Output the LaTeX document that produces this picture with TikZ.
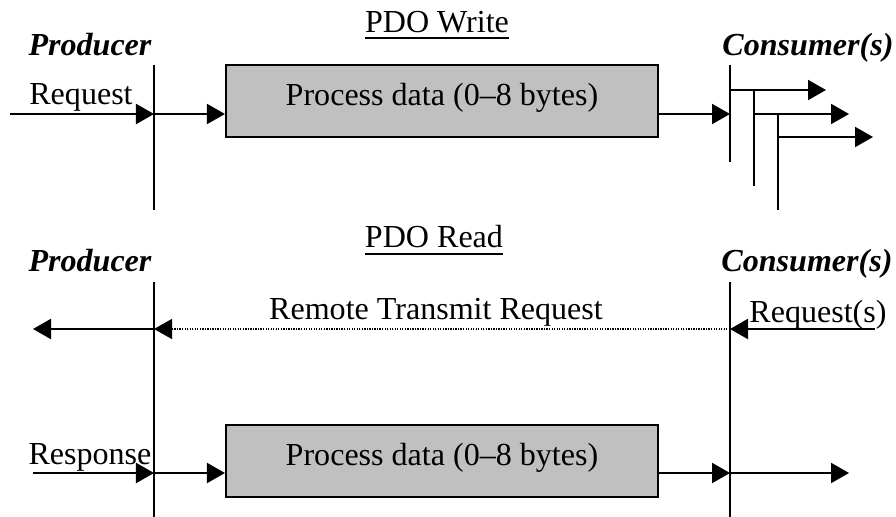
\documentclass[tikz,border=0pt]{standalone}
\usepackage{fontspec}
\setmainfont{Liberation Serif}
\usetikzlibrary{arrows.meta}
\definecolor{boxgray}{RGB}{192,192,192}
\newcommand{\pdofont}{\fontsize{22.8pt}{27pt}\selectfont}
\tikzset{
  flow/.style={line width=0.05cm, -{Triangle[length=0.45cm,width=0.5cm]}},
  life/.style={line width=0.05cm},
  rtrline/.style={line width=0.9pt, dash pattern=on 0.9pt off 0.9pt},
  databox/.style={draw, line width=0.05cm, fill=boxgray, minimum width=10.8cm,
    minimum height=1.8cm, inner sep=0pt, text height=0.56cm, text depth=0.31cm},
  role/.style={font=\pdofont\bfseries\itshape, anchor=base, inner sep=0pt},
  lbl/.style={anchor=base, inner sep=0pt},
}
\begin{document}
\begin{tikzpicture}[x=0.025cm, y=-0.025cm, every node/.style={font=\pdofont}]
\useasboundingbox (0,0) rectangle (896,517);

% PDO Write title, underlined
\node[lbl] (wtitle) at (437,33) {PDO Write};
\draw[life] ([yshift=-0.13cm]wtitle.base west) -- ([yshift=-0.13cm]wtitle.base east);

% Producer and consumers
\node[role] (wprod) at (90,56) {Producer};
\node[role] (wcons) at (808,56) {Consumer(s)};

% Lifelines
\coordinate (wp1) at (154,65);  \coordinate (wp2) at (154,210);
\coordinate (wca) at (730,65);  \coordinate (wca2) at (730,162);
\coordinate (wcb) at (754,90);  \coordinate (wcb2) at (754,186);
\coordinate (wcc) at (778,137); \coordinate (wcc2) at (778,210);
\draw[life] (wp1) -- (wp2);
\draw[life] (wca) -- (wca2);
\draw[life] (wcb) -- (wcb2);
\draw[life] ([yshift=0.6cm]wcc) -- (wcc2);

% Process data box
\node[databox] (wdata) at (442,101) {Process data (0--8 bytes)};

% Request into producer, then on to consumers
\node[lbl] (wreqlbl) at (81,105) {Request};
\coordinate (wreq) at (10,114);
\draw[flow] (wreq) -- (wreq -| wp1);
\draw[flow] (wreq -| wp1) -- (wreq -| wdata.west);
\draw[flow] (wreq -| wdata.east) -- (wreq -| wca);

% Branches to each consumer
\coordinate (wout1) at (826,90);
\coordinate (wout2) at (849,114);
\coordinate (wout3) at (873,137);
\draw[flow] (wout1 -| wca) -- (wout1);
\draw[flow] (wout2 -| wcb) -- (wout2);
\draw[flow] (wcc) -- (wout3);

% PDO Read title, underlined
\node[lbl] (rtitle) at (434,248) {PDO Read};
\draw[life] ([yshift=-0.15cm]rtitle.base west) -- ([yshift=-0.15cm]rtitle.base east);

\node[role] (rprod) at (90,272) {Producer};
\node[role] (rcons) at (807,272) {Consumer(s)};

% Lifelines
\coordinate (rp1) at (154,282); \coordinate (rp2) at (154,517);
\coordinate (rc1) at (730,282); \coordinate (rc2) at (730,517);
\draw[life] (rp1) -- (rp2);
\draw[life] (rc1) -- (rc2);

% Remote transmit request
\node[lbl] (rreqlbl) at (818,323) {Request(s)};
\node[lbl] (rtrlbl) at (436,320) {Remote Transmit Request};
\coordinate (rreq) at (875,329);
\coordinate (rtr) at (33,329);
\draw[flow] (rreq) -- (rreq -| rc1);
\draw[flow, rtrline] (rreq -| rc1) -- (rreq -| rp1);
\draw[flow] (rtr -| rp1) -- (rtr);

% Response with process data
\node[databox] (rdata) at (442,461) {Process data (0--8 bytes)};
\node[lbl] (rresplbl) at (90,465) {Response};
\coordinate (rresp) at (33,473);
\coordinate (rout) at (849,473);
\draw[flow] (rresp) -- (rresp -| rp1);
\draw[flow] (rresp -| rp1) -- (rresp -| rdata.west);
\draw[flow] (rresp -| rdata.east) -- (rresp -| rc1);
\draw[flow] (rresp -| rc1) -- (rout);
\end{tikzpicture}
\end{document}
